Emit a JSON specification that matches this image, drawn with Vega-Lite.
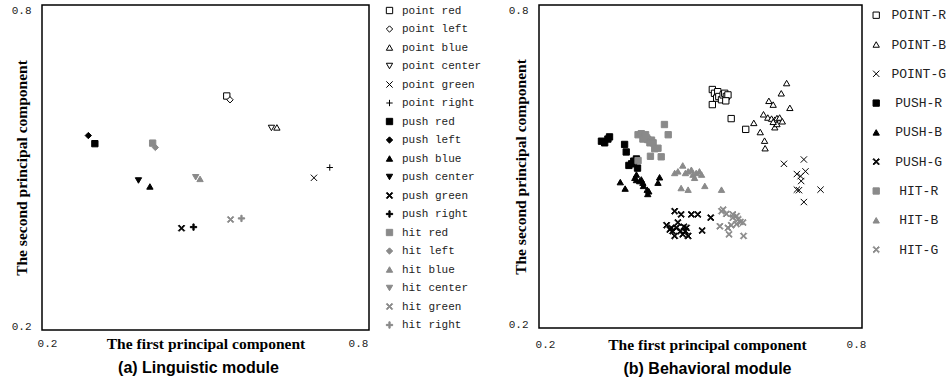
{
  "$schema": "https://vega.github.io/schema/vega-lite/v6.json",
  "padding": {"left": 10, "top": 3, "right": 0, "bottom": 0},
  "spacing": 24,
  "config": {
    "view": {"stroke": "black", "strokeWidth": 1.5},
    "axis": {"grid": false, "ticks": false, "tickSize": 0, "domain": false, "labelFlush": false, "labelFont": "Liberation Mono", "labelFontSize": 11, "labelColor": "#222", "titleFont": "Liberation Serif", "titleFontSize": 15.5, "titleFontWeight": "bold", "titleColor": "black"},
    "title": {"font": "Liberation Sans", "fontSize": 16, "fontWeight": "bold", "color": "black"}
  },
  "resolve": {"scale": {"shape": "independent", "fill": "independent", "stroke": "independent"}, "legend": {"shape": "independent", "fill": "independent", "stroke": "independent"}},
  "hconcat": [
    {
      "width": 327, "height": 325,
      "title": {"text": "(a) Linguistic module", "orient": "bottom", "anchor": "middle", "frame": "group", "dx": -7, "offset": 8},
      "data": {"values": [
        {"label": "point red", "pc1": 0.539, "pc2": 0.632},
        {"label": "point left", "pc1": 0.545, "pc2": 0.625},
        {"label": "point blue", "pc1": 0.631, "pc2": 0.574},
        {"label": "point center", "pc1": 0.621, "pc2": 0.573},
        {"label": "point green", "pc1": 0.699, "pc2": 0.481},
        {"label": "point right", "pc1": 0.728, "pc2": 0.500},
        {"label": "push red", "pc1": 0.297, "pc2": 0.544},
        {"label": "push left", "pc1": 0.285, "pc2": 0.559},
        {"label": "push blue", "pc1": 0.398, "pc2": 0.465},
        {"label": "push center", "pc1": 0.377, "pc2": 0.476},
        {"label": "push green", "pc1": 0.456, "pc2": 0.388},
        {"label": "push right", "pc1": 0.478, "pc2": 0.390},
        {"label": "hit red", "pc1": 0.403, "pc2": 0.545},
        {"label": "hit left", "pc1": 0.408, "pc2": 0.537},
        {"label": "hit blue", "pc1": 0.490, "pc2": 0.479},
        {"label": "hit center", "pc1": 0.482, "pc2": 0.482},
        {"label": "hit green", "pc1": 0.546, "pc2": 0.404},
        {"label": "hit right", "pc1": 0.566, "pc2": 0.406}
      ]},
      "mark": {"type": "point", "size": 40, "opacity": 1, "strokeWidth": 1},
      "encoding": {
        "x": {"field": "pc1", "type": "quantitative", "scale": {"domain": [0.2, 0.8], "nice": false, "zero": false},
          "axis": {"values": [0.2, 0.8], "title": "The first principal component", "labelPadding": 13.4, "labelBaseline": "middle", "labelAlign": "center",
            "labelOffset": {"condition": {"test": "datum.value < 0.5", "value": 5}, "value": -11},
            "titleX": 163.5, "titleY": 13.4, "titleBaseline": "middle", "titleAlign": "center"}},
        "y": {"field": "pc2", "type": "quantitative", "scale": {"domain": [0.2, 0.8], "nice": false, "zero": false},
          "axis": {"values": [0.2, 0.8], "title": "The second principal component", "labelPadding": 11, "labelBaseline": "middle",
            "labelOffset": {"condition": {"test": "datum.value > 0.5", "value": 5}, "value": -4},
            "titleX": -20.6, "titleY": 162.5, "titleBaseline": "middle", "titleAlign": "center", "titleAngle": -90}},
        "shape": {"field": "label", "type": "nominal",
          "scale": {"domain": ["point red", "point left", "point blue", "point center", "point green", "point right", "push red", "push left", "push blue", "push center", "push green", "push right", "hit red", "hit left", "hit blue", "hit center", "hit green", "hit right"],
            "range": ["square", "diamond", "triangle-up", "triangle-down", "M-1,-1L1,1M-1,1L1,-1", "M-1,0L1,0M0,-1L0,1", "square", "diamond", "triangle-up", "triangle-down", "M-1,-0.75L-0.75,-1L0,-0.25L0.75,-1L1,-0.75L0.25,0L1,0.75L0.75,1L0,0.25L-0.75,1L-1,0.75L-0.25,0Z", "M-1,-0.2L-0.2,-0.2L-0.2,-1L0.2,-1L0.2,-0.2L1,-0.2L1,0.2L0.2,0.2L0.2,1L-0.2,1L-0.2,0.2L-1,0.2Z", "square", "diamond", "triangle-up", "triangle-down", "M-1,-0.75L-0.75,-1L0,-0.25L0.75,-1L1,-0.75L0.25,0L1,0.75L0.75,1L0,0.25L-0.75,1L-1,0.75L-0.25,0Z", "M-1,-0.2L-0.2,-0.2L-0.2,-1L0.2,-1L0.2,-0.2L1,-0.2L1,0.2L0.2,0.2L0.2,1L-0.2,1L-0.2,0.2L-1,0.2Z"]},
          "legend": {"title": null, "offset": 15, "padding": 0, "labelFont": "Liberation Mono", "labelFontSize": 11, "labelColor": "#222", "symbolSize": 40, "symbolStrokeWidth": 1, "rowPadding": 6.5, "labelOffset": 7}},
        "fill": {"field": "label", "type": "nominal",
          "scale": {"domain": ["point red", "point left", "point blue", "point center", "point green", "point right", "push red", "push left", "push blue", "push center", "push green", "push right", "hit red", "hit left", "hit blue", "hit center", "hit green", "hit right"],
            "range": ["white", "white", "white", "white", "white", "white", "black", "black", "black", "black", "black", "black", "#8a8a8a", "#8a8a8a", "#8a8a8a", "#8a8a8a", "#8a8a8a", "#8a8a8a"]},
          "legend": {"title": null, "offset": 15, "padding": 0, "labelFont": "Liberation Mono", "labelFontSize": 11, "labelColor": "#222", "symbolSize": 40, "symbolStrokeWidth": 1, "rowPadding": 6.5, "labelOffset": 7}},
        "stroke": {"field": "label", "type": "nominal",
          "scale": {"domain": ["point red", "point left", "point blue", "point center", "point green", "point right", "push red", "push left", "push blue", "push center", "push green", "push right", "hit red", "hit left", "hit blue", "hit center", "hit green", "hit right"],
            "range": ["black", "black", "black", "black", "black", "black", "black", "black", "black", "black", "black", "black", "#8a8a8a", "#8a8a8a", "#8a8a8a", "#8a8a8a", "#8a8a8a", "#8a8a8a"]},
          "legend": {"title": null, "offset": 15, "padding": 0, "labelFont": "Liberation Mono", "labelFontSize": 11, "labelColor": "#222", "symbolSize": 40, "symbolStrokeWidth": 1, "rowPadding": 6.5, "labelOffset": 7}}
      }
    },
    {
      "width": 323, "height": 323,
      "title": {"text": "(b) Behavioral module", "orient": "bottom", "anchor": "middle", "frame": "group", "dx": 7, "offset": 8},
      "data": {"values": [
        {"cls": "POINT-R", "pc1": 0.522, "pc2": 0.643},
        {"cls": "POINT-R", "pc1": 0.526, "pc2": 0.636},
        {"cls": "POINT-R", "pc1": 0.532, "pc2": 0.639},
        {"cls": "POINT-R", "pc1": 0.530, "pc2": 0.627},
        {"cls": "POINT-R", "pc1": 0.534, "pc2": 0.630},
        {"cls": "POINT-R", "pc1": 0.539, "pc2": 0.624},
        {"cls": "POINT-R", "pc1": 0.542, "pc2": 0.633},
        {"cls": "POINT-R", "pc1": 0.545, "pc2": 0.636},
        {"cls": "POINT-R", "pc1": 0.548, "pc2": 0.630},
        {"cls": "POINT-R", "pc1": 0.551, "pc2": 0.633},
        {"cls": "POINT-R", "pc1": 0.547, "pc2": 0.622},
        {"cls": "POINT-R", "pc1": 0.522, "pc2": 0.615},
        {"cls": "POINT-R", "pc1": 0.557, "pc2": 0.589},
        {"cls": "POINT-R", "pc1": 0.584, "pc2": 0.569},
        {"cls": "POINT-B", "pc1": 0.660, "pc2": 0.655},
        {"cls": "POINT-B", "pc1": 0.650, "pc2": 0.636},
        {"cls": "POINT-B", "pc1": 0.627, "pc2": 0.622},
        {"cls": "POINT-B", "pc1": 0.635, "pc2": 0.615},
        {"cls": "POINT-B", "pc1": 0.666, "pc2": 0.609},
        {"cls": "POINT-B", "pc1": 0.617, "pc2": 0.597},
        {"cls": "POINT-B", "pc1": 0.625, "pc2": 0.591},
        {"cls": "POINT-B", "pc1": 0.632, "pc2": 0.589},
        {"cls": "POINT-B", "pc1": 0.638, "pc2": 0.587},
        {"cls": "POINT-B", "pc1": 0.642, "pc2": 0.590},
        {"cls": "POINT-B", "pc1": 0.647, "pc2": 0.591},
        {"cls": "POINT-B", "pc1": 0.652, "pc2": 0.584},
        {"cls": "POINT-B", "pc1": 0.638, "pc2": 0.573},
        {"cls": "POINT-B", "pc1": 0.642, "pc2": 0.579},
        {"cls": "POINT-B", "pc1": 0.599, "pc2": 0.581},
        {"cls": "POINT-B", "pc1": 0.611, "pc2": 0.564},
        {"cls": "POINT-B", "pc1": 0.619, "pc2": 0.548},
        {"cls": "POINT-B", "pc1": 0.620, "pc2": 0.534},
        {"cls": "POINT-B", "pc1": 0.635, "pc2": 0.583},
        {"cls": "POINT-G", "pc1": 0.655, "pc2": 0.505},
        {"cls": "POINT-G", "pc1": 0.692, "pc2": 0.513},
        {"cls": "POINT-G", "pc1": 0.695, "pc2": 0.491},
        {"cls": "POINT-G", "pc1": 0.679, "pc2": 0.486},
        {"cls": "POINT-G", "pc1": 0.686, "pc2": 0.482},
        {"cls": "POINT-G", "pc1": 0.687, "pc2": 0.473},
        {"cls": "POINT-G", "pc1": 0.683, "pc2": 0.456},
        {"cls": "POINT-G", "pc1": 0.679, "pc2": 0.457},
        {"cls": "POINT-G", "pc1": 0.723, "pc2": 0.457},
        {"cls": "POINT-G", "pc1": 0.692, "pc2": 0.434},
        {"cls": "PUSH-R", "pc1": 0.316, "pc2": 0.547},
        {"cls": "PUSH-R", "pc1": 0.322, "pc2": 0.544},
        {"cls": "PUSH-R", "pc1": 0.328, "pc2": 0.551},
        {"cls": "PUSH-R", "pc1": 0.331, "pc2": 0.555},
        {"cls": "PUSH-R", "pc1": 0.359, "pc2": 0.541},
        {"cls": "PUSH-R", "pc1": 0.362, "pc2": 0.527},
        {"cls": "PUSH-R", "pc1": 0.367, "pc2": 0.502},
        {"cls": "PUSH-R", "pc1": 0.372, "pc2": 0.505},
        {"cls": "PUSH-R", "pc1": 0.376, "pc2": 0.510},
        {"cls": "PUSH-R", "pc1": 0.381, "pc2": 0.514},
        {"cls": "PUSH-R", "pc1": 0.383, "pc2": 0.497},
        {"cls": "PUSH-B", "pc1": 0.351, "pc2": 0.471},
        {"cls": "PUSH-B", "pc1": 0.360, "pc2": 0.459},
        {"cls": "PUSH-B", "pc1": 0.378, "pc2": 0.479},
        {"cls": "PUSH-B", "pc1": 0.381, "pc2": 0.475},
        {"cls": "PUSH-B", "pc1": 0.387, "pc2": 0.473},
        {"cls": "PUSH-B", "pc1": 0.393, "pc2": 0.470},
        {"cls": "PUSH-B", "pc1": 0.394, "pc2": 0.464},
        {"cls": "PUSH-B", "pc1": 0.401, "pc2": 0.457},
        {"cls": "PUSH-B", "pc1": 0.402, "pc2": 0.449},
        {"cls": "PUSH-B", "pc1": 0.404, "pc2": 0.454},
        {"cls": "PUSH-B", "pc1": 0.424, "pc2": 0.480},
        {"cls": "PUSH-B", "pc1": 0.421, "pc2": 0.470},
        {"cls": "PUSH-B", "pc1": 0.381, "pc2": 0.485},
        {"cls": "PUSH-B", "pc1": 0.390, "pc2": 0.476},
        {"cls": "PUSH-G", "pc1": 0.452, "pc2": 0.417},
        {"cls": "PUSH-G", "pc1": 0.464, "pc2": 0.411},
        {"cls": "PUSH-G", "pc1": 0.483, "pc2": 0.411},
        {"cls": "PUSH-G", "pc1": 0.495, "pc2": 0.411},
        {"cls": "PUSH-G", "pc1": 0.519, "pc2": 0.405},
        {"cls": "PUSH-G", "pc1": 0.437, "pc2": 0.391},
        {"cls": "PUSH-G", "pc1": 0.443, "pc2": 0.383},
        {"cls": "PUSH-G", "pc1": 0.448, "pc2": 0.380},
        {"cls": "PUSH-G", "pc1": 0.452, "pc2": 0.371},
        {"cls": "PUSH-G", "pc1": 0.455, "pc2": 0.386},
        {"cls": "PUSH-G", "pc1": 0.458, "pc2": 0.396},
        {"cls": "PUSH-G", "pc1": 0.463, "pc2": 0.380},
        {"cls": "PUSH-G", "pc1": 0.467, "pc2": 0.374},
        {"cls": "PUSH-G", "pc1": 0.474, "pc2": 0.386},
        {"cls": "PUSH-G", "pc1": 0.477, "pc2": 0.371},
        {"cls": "PUSH-G", "pc1": 0.472, "pc2": 0.380},
        {"cls": "PUSH-G", "pc1": 0.503, "pc2": 0.381},
        {"cls": "PUSH-G", "pc1": 0.446, "pc2": 0.386},
        {"cls": "PUSH-G", "pc1": 0.469, "pc2": 0.388},
        {"cls": "HIT-R", "pc1": 0.384, "pc2": 0.559},
        {"cls": "HIT-R", "pc1": 0.390, "pc2": 0.561},
        {"cls": "HIT-R", "pc1": 0.396, "pc2": 0.556},
        {"cls": "HIT-R", "pc1": 0.400, "pc2": 0.553},
        {"cls": "HIT-R", "pc1": 0.402, "pc2": 0.550},
        {"cls": "HIT-R", "pc1": 0.409, "pc2": 0.549},
        {"cls": "HIT-R", "pc1": 0.406, "pc2": 0.544},
        {"cls": "HIT-R", "pc1": 0.412, "pc2": 0.544},
        {"cls": "HIT-R", "pc1": 0.415, "pc2": 0.533},
        {"cls": "HIT-R", "pc1": 0.421, "pc2": 0.534},
        {"cls": "HIT-R", "pc1": 0.407, "pc2": 0.519},
        {"cls": "HIT-R", "pc1": 0.427, "pc2": 0.518},
        {"cls": "HIT-R", "pc1": 0.433, "pc2": 0.578},
        {"cls": "HIT-R", "pc1": 0.440, "pc2": 0.559},
        {"cls": "HIT-R", "pc1": 0.384, "pc2": 0.511},
        {"cls": "HIT-R", "pc1": 0.393, "pc2": 0.551},
        {"cls": "HIT-R", "pc1": 0.398, "pc2": 0.559},
        {"cls": "HIT-B", "pc1": 0.452, "pc2": 0.488},
        {"cls": "HIT-B", "pc1": 0.458, "pc2": 0.491},
        {"cls": "HIT-B", "pc1": 0.467, "pc2": 0.502},
        {"cls": "HIT-B", "pc1": 0.472, "pc2": 0.488},
        {"cls": "HIT-B", "pc1": 0.477, "pc2": 0.491},
        {"cls": "HIT-B", "pc1": 0.483, "pc2": 0.494},
        {"cls": "HIT-B", "pc1": 0.486, "pc2": 0.485},
        {"cls": "HIT-B", "pc1": 0.489, "pc2": 0.479},
        {"cls": "HIT-B", "pc1": 0.492, "pc2": 0.488},
        {"cls": "HIT-B", "pc1": 0.498, "pc2": 0.491},
        {"cls": "HIT-B", "pc1": 0.502, "pc2": 0.485},
        {"cls": "HIT-B", "pc1": 0.464, "pc2": 0.460},
        {"cls": "HIT-B", "pc1": 0.477, "pc2": 0.457},
        {"cls": "HIT-B", "pc1": 0.508, "pc2": 0.464},
        {"cls": "HIT-B", "pc1": 0.539, "pc2": 0.457},
        {"cls": "HIT-G", "pc1": 0.539, "pc2": 0.417},
        {"cls": "HIT-G", "pc1": 0.542, "pc2": 0.420},
        {"cls": "HIT-G", "pc1": 0.548, "pc2": 0.412},
        {"cls": "HIT-G", "pc1": 0.560, "pc2": 0.411},
        {"cls": "HIT-G", "pc1": 0.567, "pc2": 0.408},
        {"cls": "HIT-G", "pc1": 0.570, "pc2": 0.402},
        {"cls": "HIT-G", "pc1": 0.574, "pc2": 0.397},
        {"cls": "HIT-G", "pc1": 0.579, "pc2": 0.396},
        {"cls": "HIT-G", "pc1": 0.567, "pc2": 0.393},
        {"cls": "HIT-G", "pc1": 0.557, "pc2": 0.391},
        {"cls": "HIT-G", "pc1": 0.551, "pc2": 0.386},
        {"cls": "HIT-G", "pc1": 0.553, "pc2": 0.374},
        {"cls": "HIT-G", "pc1": 0.536, "pc2": 0.389},
        {"cls": "HIT-G", "pc1": 0.580, "pc2": 0.371},
        {"cls": "HIT-G", "pc1": 0.560, "pc2": 0.405}
      ]},
      "mark": {"type": "point", "size": 40, "opacity": 1, "strokeWidth": 1},
      "encoding": {
        "x": {"field": "pc1", "type": "quantitative", "scale": {"domain": [0.2, 0.8], "nice": false, "zero": false},
          "axis": {"values": [0.2, 0.8], "title": "The first principal component", "labelPadding": 16.6, "labelBaseline": "middle", "labelAlign": "center",
            "labelOffset": {"condition": {"test": "datum.value < 0.5", "value": 6}, "value": -6},
            "titleX": 168, "titleY": 16.6, "titleBaseline": "middle", "titleAlign": "center"}},
        "y": {"field": "pc2", "type": "quantitative", "scale": {"domain": [0.2, 0.8], "nice": false, "zero": false},
          "axis": {"values": [0.2, 0.8], "title": "The second principal component", "labelPadding": 11, "labelBaseline": "middle",
            "labelOffset": {"condition": {"test": "datum.value > 0.5", "value": 5}, "value": -3.4},
            "titleX": -18.3, "titleY": 161.5, "titleBaseline": "middle", "titleAlign": "center", "titleAngle": -90}},
        "shape": {"field": "cls", "type": "nominal",
          "scale": {"domain": ["POINT-R", "POINT-B", "POINT-G", "PUSH-R", "PUSH-B", "PUSH-G", "HIT-R", "HIT-B", "HIT-G"],
            "range": ["square", "triangle-up", "M-1,-1L1,1M-1,1L1,-1", "square", "triangle-up", "M-1,-0.75L-0.75,-1L0,-0.25L0.75,-1L1,-0.75L0.25,0L1,0.75L0.75,1L0,0.25L-0.75,1L-1,0.75L-0.25,0Z", "square", "triangle-up", "M-1,-0.75L-0.75,-1L0,-0.25L0.75,-1L1,-0.75L0.25,0L1,0.75L0.75,1L0,0.25L-0.75,1L-1,0.75L-0.25,0Z"]},
          "legend": {"title": null, "offset": 4, "padding": 3.7, "labelFont": "Liberation Mono", "labelFontSize": 13, "labelColor": "#222", "symbolSize": 40, "symbolStrokeWidth": 1, "rowPadding": 15.3, "labelOffset": 36, "labelAlign": "center"}},
        "fill": {"field": "cls", "type": "nominal",
          "scale": {"domain": ["POINT-R", "POINT-B", "POINT-G", "PUSH-R", "PUSH-B", "PUSH-G", "HIT-R", "HIT-B", "HIT-G"],
            "range": ["white", "white", "white", "black", "black", "black", "#8a8a8a", "#8a8a8a", "#8a8a8a"]},
          "legend": {"title": null, "offset": 4, "padding": 3.7, "labelFont": "Liberation Mono", "labelFontSize": 13, "labelColor": "#222", "symbolSize": 40, "symbolStrokeWidth": 1, "rowPadding": 15.3, "labelOffset": 36, "labelAlign": "center"}},
        "stroke": {"field": "cls", "type": "nominal",
          "scale": {"domain": ["POINT-R", "POINT-B", "POINT-G", "PUSH-R", "PUSH-B", "PUSH-G", "HIT-R", "HIT-B", "HIT-G"],
            "range": ["black", "black", "black", "black", "black", "black", "#8a8a8a", "#8a8a8a", "#8a8a8a"]},
          "legend": {"title": null, "offset": 4, "padding": 3.7, "labelFont": "Liberation Mono", "labelFontSize": 13, "labelColor": "#222", "symbolSize": 40, "symbolStrokeWidth": 1, "rowPadding": 15.3, "labelOffset": 36, "labelAlign": "center"}}
      }
    }
  ]
}
